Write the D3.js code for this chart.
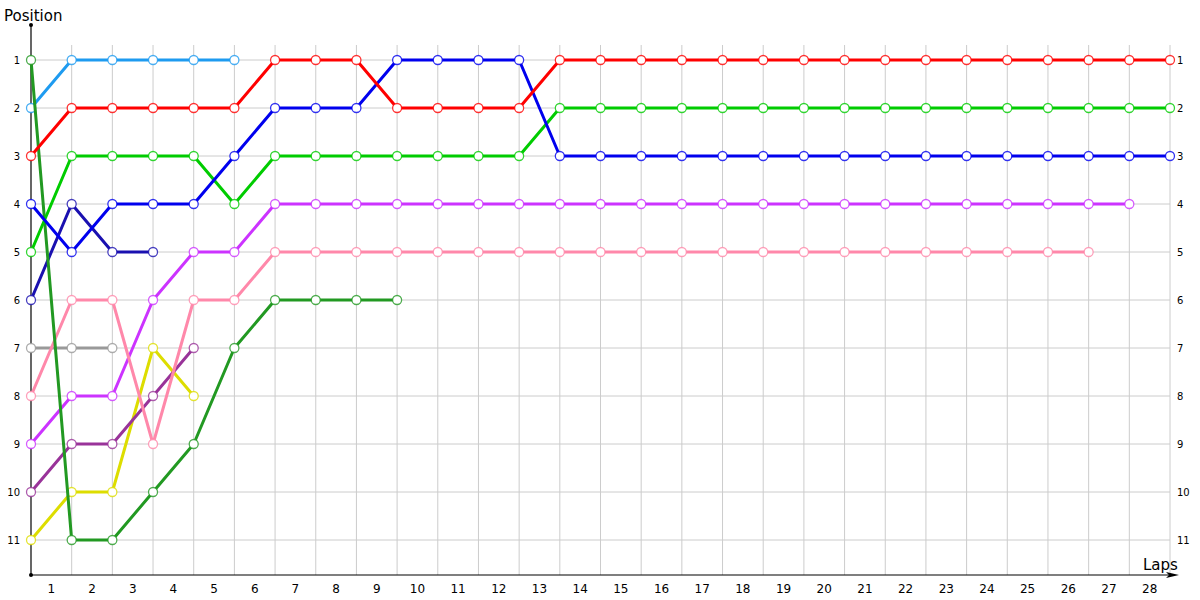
<!DOCTYPE html>
<html>
<head>
<meta charset="utf-8">
<script src="https://cdn.jsdelivr.net/npm/d3@7"></script>
<style>
  body { margin: 0; background: #fff; }
  text { font-family: "DejaVu Sans", Verdana, sans-serif; fill: #000; }
</style>
</head>
<body>
<svg id="chart" width="1200" height="600"></svg>
<script>
// positions per lap, index = lap (0 = start)
var lapCount = 28;
var positions = [1, 2, 3, 4, 5, 6, 7, 8, 9, 10, 11];
var lapLabels = d3.range(1, 29);

var lightBlue = [2, 1, 1, 1, 1, 1];
var red = [3, 2, 2, 2, 2, 2, 1, 1, 1, 2, 2, 2, 2, 1, 1, 1, 1, 1, 1, 1, 1, 1, 1, 1, 1, 1, 1, 1, 1];
var green = [5, 3, 3, 3, 3, 4, 3, 3, 3, 3, 3, 3, 3, 2, 2, 2, 2, 2, 2, 2, 2, 2, 2, 2, 2, 2, 2, 2, 2];
var blue = [4, 5, 4, 4, 4, 3, 2, 2, 2, 1, 1, 1, 1, 3, 3, 3, 3, 3, 3, 3, 3, 3, 3, 3, 3, 3, 3, 3, 3];
var navy = [6, 4, 5, 5];
var magenta = [9, 8, 8, 6, 5, 5, 4, 4, 4, 4, 4, 4, 4, 4, 4, 4, 4, 4, 4, 4, 4, 4, 4, 4, 4, 4, 4, 4];
var pink = [8, 6, 6, 9, 6, 6, 5, 5, 5, 5, 5, 5, 5, 5, 5, 5, 5, 5, 5, 5, 5, 5, 5, 5, 5, 5, 5];
var gray = [7, 7, 7];
var yellow = [11, 10, 10, 7, 8];
var purple = [10, 9, 9, 8, 7];
var darkGreen = [1, 11, 11, 10, 9, 7, 6, 6, 6, 6];

var series = [
  {values: gray, color: "#999999"},
  {values: lightBlue, color: "#1e9bf0"},
  {values: navy, color: "#1a10b0"},
  {values: magenta, color: "#cc33ff"},
  {values: yellow, color: "#dddd00"},
  {values: purple, color: "#993399"},
  {values: pink, color: "#ff88aa"},
  {values: darkGreen, color: "#229922"},
  {values: green, color: "#00cc00"},
  {values: blue, color: "#0000ee"},
  {values: red, color: "#ff0000"}
];

var svg = d3.select("#chart");

var x = d3.scaleLinear().domain([0, lapCount]).range([31, 1170]);
var y = d3.scaleLinear().domain([1, 11]).range([60, 540]);
var axisY = 575;

// grid
svg.append("g")
  .selectAll("line")
  .data(positions)
  .enter()
  .append("line")
  .attr("x1", x(0)).attr("x2", x(lapCount))
  .attr("y1", d => y(d)).attr("y2", d => y(d))
  .attr("stroke", "#cccccc").attr("stroke-width", 1);

svg.append("g")
  .selectAll("line")
  .data(d3.range(1, lapCount + 1))
  .enter()
  .append("line")
  .attr("x1", d => x(d)).attr("x2", d => x(d))
  .attr("y1", 45).attr("y2", axisY)
  .attr("stroke", "#cccccc").attr("stroke-width", 1);

// axes
svg.append("line")
  .attr("x1", x(0)).attr("x2", x(0))
  .attr("y1", 25).attr("y2", axisY)
  .attr("stroke", "#000").attr("stroke-width", 1.2);
svg.append("circle").attr("cx", x(0)).attr("cy", 25).attr("r", 2).attr("fill", "#000");
svg.append("circle").attr("cx", x(0)).attr("cy", axisY).attr("r", 2).attr("fill", "#000");
svg.append("line")
  .attr("x1", x(0)).attr("x2", 1172)
  .attr("y1", axisY).attr("y2", axisY)
  .attr("stroke", "#000").attr("stroke-width", 1.2);
svg.append("path")
  .attr("d", "M1166," + (axisY - 3) + " L1179," + axisY + " L1166," + (axisY + 3) + " L1169," + axisY + " Z")
  .attr("fill", "#000");

// tick labels
svg.append("g")
  .selectAll("text")
  .data(positions)
  .enter()
  .append("text")
  .attr("x", 20)
  .attr("y", d => y(d))
  .attr("dy", "0.35em")
  .attr("text-anchor", "end")
  .style("font-size", "10px")
  .text(d => d);

svg.append("g")
  .selectAll("text")
  .data(positions)
  .enter()
  .append("text")
  .attr("x", x(lapCount) + 7)
  .attr("y", d => y(d))
  .attr("dy", "0.35em")
  .style("font-size", "10px")
  .text(d => d);

svg.append("g")
  .selectAll("text")
  .data(lapLabels)
  .enter()
  .append("text")
  .attr("x", d => x(d - 0.5))
  .attr("y", 593)
  .attr("text-anchor", "middle")
  .style("font-size", "12px")
  .text(d => d);

svg.append("text").attr("x", 4).attr("y", 21).style("font-size", "15px").text("Position");
svg.append("text").attr("x", 1143).attr("y", 570).style("font-size", "15px").text("Laps");

// series
var line = d3.line().x((d, i) => x(i)).y(d => y(d));

var groups = svg.selectAll(".series")
  .data(series)
  .enter()
  .append("g")
  .attr("class", "series");

groups.append("path")
  .attr("d", d => line(d.values))
  .attr("fill", "none")
  .attr("stroke", d => d.color)
  .attr("stroke-width", 3)
  .attr("stroke-linejoin", "round");

groups.each(function (s) {
  d3.select(this)
    .selectAll("circle")
    .data(s.values)
    .enter()
    .append("circle")
    .attr("cx", (d, i) => x(i))
    .attr("cy", d => y(d))
    .attr("r", 4.5)
    .attr("fill", "#fff")
    .attr("stroke", s.color)
    .attr("stroke-opacity", 0.8)
    .attr("stroke-width", 1.3);
});
</script>
</body>
</html>
